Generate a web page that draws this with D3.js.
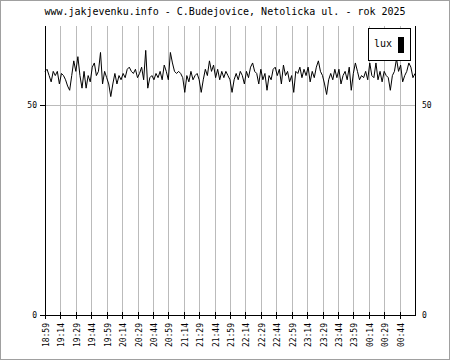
<!DOCTYPE html>
<html><head><meta charset="utf-8">
<script src="https://cdn.jsdelivr.net/npm/d3@7"></script>
<style>body{margin:0;background:#fff}svg{display:block}</style>
</head><body>
<script>
const titleText = "www.jakjevenku.info - C.Budejovice, Netolicka ul. - rok 2025";
const seriesName = "lux";
const startTime = "18:59";
const stepMinutes = 2;
const tickLabels = ["18:59","19:14","19:29","19:44","19:59","20:14","20:29","20:44","20:59","21:14","21:29","21:44","21:59","22:14","22:29","22:44","22:59","23:14","23:29","23:44","23:59","00:14","00:29","00:44"];
const yTicks = [0, 50];
const luxValues = [
58.0,58.5,57,55.5,58,57,58,55,57.5,57,56,54.5,53.5,57,60.5,58,61.5,57,54,58,
54,57,55.5,59,60,57,58,62.5,55,58,56.5,55,52,55,57.5,55,57,56,57.5,56.5,
58.5,59,58,57.5,58.5,56.5,57.5,59,56,63,54,56.5,57,56,57.5,56.5,58,56,59.5,58,
56,62.5,60,58,57.5,58,57.5,56.5,53,57,55.5,58,56,57,57.5,56,53,56,58.5,57,
60.5,58,59.5,56.5,58.5,56,58,56.5,58,57,56,53,56,57.5,56,58,57,55,58,56.5,
59,60,58,57.5,55,58.5,56,57.5,53.5,57,56,58.5,59,57,58.5,55,59.5,57,58,55.5,
57,53,58,57.5,59,56.5,58.5,57,59,55.5,58,56.5,59,60.5,58,57,55,52.5,56,57.5,
56,58.5,56.5,58.5,55,57,58,56,59,53.5,57.5,60,58,56,57,56.5,58,56,60,57,
56.5,60,56,58,55.5,58,57,56.5,53.5,57,58,61,58,59.5,55.5,57,58,60,59,56.5,57.5
];

const W = 450, H = 360;
const svg = d3.select("body").append("svg").attr("width", W).attr("height", H);
svg.append("rect").attr("x",0.5).attr("y",0.5).attr("width",W-1).attr("height",H-1)
  .attr("fill","#fff").attr("stroke","#a0a0a0");

const mLeft = 45, mRight = 415, mTop = 26, mBottom = 315;
const totalMin = 360;
const x = d3.scaleLinear().domain([0,totalMin]).range([mLeft,mRight]);
const y = d3.scaleLinear().domain([0,68.8]).range([mBottom,mTop]);

const data = luxValues.map((v,i)=>({t:i*stepMinutes, v}));

const tickPos = tickLabels.map((d,i)=>i*15);
svg.append("g").selectAll("line").data(tickPos.slice(1)).join("line")
  .attr("x1",d=>Math.round(x(d))+0.5).attr("x2",d=>Math.round(x(d))+0.5)
  .attr("y1",mTop).attr("y2",mBottom).attr("stroke","#bbb");
svg.append("g").selectAll("line").data(yTicks.filter(d=>d>0)).join("line")
  .attr("x1",mLeft).attr("x2",mRight).attr("y1",d=>Math.round(y(d))+0.5).attr("y2",d=>Math.round(y(d))+0.5)
  .attr("stroke","#bbb");

const line = d3.line().x(d=>x(d.t)).y(d=>y(d.v));
svg.append("path").datum(data).attr("d",line).attr("fill","none").attr("stroke","#000").attr("stroke-width",1);

const ax = svg.append("g").attr("stroke","#000").attr("shape-rendering","crispEdges");
ax.append("line").attr("x1",mLeft+0.5).attr("x2",mLeft+0.5).attr("y1",mTop).attr("y2",mBottom+0.5);
ax.append("line").attr("x1",mRight+0.5).attr("x2",mRight+0.5).attr("y1",mTop).attr("y2",mBottom+0.5);
ax.append("line").attr("x1",mLeft).attr("x2",mRight+1).attr("y1",mBottom+0.5).attr("y2",mBottom+0.5);
ax.selectAll(".xt").data(tickPos).join("line")
  .attr("x1",d=>Math.round(x(d))+0.5).attr("x2",d=>Math.round(x(d))+0.5)
  .attr("y1",mBottom-3).attr("y2",mBottom+4);
ax.selectAll(".yt").data(yTicks).join("line")
  .attr("x1",mLeft-5).attr("x2",mLeft).attr("y1",d=>Math.round(y(d))+0.5).attr("y2",d=>Math.round(y(d))+0.5);

const font = "'DejaVu Sans Mono', monospace";
svg.selectAll(".xl").data(tickLabels).join("text")
  .attr("transform",(d,i)=>`translate(${Math.round(x(tickPos[i]))+3.5},323) rotate(-90)`)
  .attr("text-anchor","end").attr("font-family",font).attr("font-size",8).text(d=>d);
svg.selectAll(".yl").data(yTicks).join("text")
  .attr("x",37).attr("y",d=>y(d)+3).attr("text-anchor","end")
  .attr("font-family",font).attr("font-size",8).text(d=>d);
svg.selectAll(".yr").data(yTicks).join("text")
  .attr("x",422).attr("y",d=>y(d)+3).attr("text-anchor","start")
  .attr("font-family",font).attr("font-size",8).text(d=>d);

svg.append("text").attr("x",225).attr("y",15).attr("text-anchor","middle")
  .attr("font-family",font).attr("font-size",10).text(titleText);

const lg = svg.append("g");
lg.append("rect").attr("x",368.5).attr("y",28.5).attr("width",42).attr("height",32).attr("fill","#fff").attr("stroke","#000");
lg.append("text").attr("x",374).attr("y",47).attr("font-family",font).attr("font-size",10).text(seriesName);
lg.append("rect").attr("x",398).attr("y",37).attr("width",6).attr("height",16).attr("fill","#000");
</script>
</body></html>
